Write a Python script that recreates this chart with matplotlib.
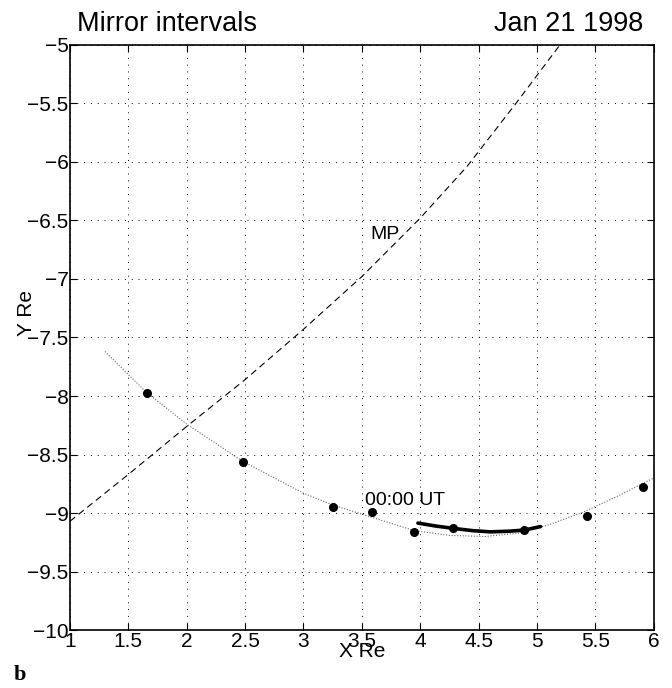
import matplotlib
matplotlib.use("Agg")
import matplotlib.pyplot as plt
import numpy as np

plt.rcParams['font.family'] = ['Liberation Sans', 'DejaVu Sans']

# orbit positions (black dots)
pos_x = [1.657, 2.484, 3.249, 3.589, 3.948, 4.277, 4.887, 5.429, 5.903]
pos_y = [-7.977, -8.567, -8.946, -8.989, -9.160, -9.131, -9.140, -9.023, -8.775]

# thin dotted orbit track
orb_x = [1.30, 1.657, 2.00, 2.484, 3.00, 3.25, 3.60, 3.95, 4.25, 4.55, 4.85, 5.10, 5.40, 5.70, 6.00]
orb_y = [-7.62, -7.97, -8.24, -8.56, -8.83, -8.93, -9.04, -9.15, -9.19, -9.20, -9.17, -9.10, -8.99, -8.85, -8.70]

# thick segment: mirror interval
mir_x = [3.98, 4.13, 4.28, 4.45, 4.60, 4.75, 4.89, 5.03]
mir_y = [-9.085, -9.11, -9.13, -9.15, -9.16, -9.155, -9.145, -9.115]

# magnetopause (dashed)
mp_x = [1.0, 1.5, 2.0, 2.5, 3.0, 3.5, 4.0, 4.4, 4.82, 5.25]
mp_y = [-9.07, -8.67, -8.26, -7.86, -7.43, -6.98, -6.48, -6.04, -5.50, -4.93]

fig = plt.figure(figsize=(6.72, 6.88), dpi=100)
ax = fig.add_axes([0.104, 0.084, 0.869, 0.851])

ax.plot(orb_x, orb_y, color='0.4', lw=0.8, ls=(0, (1, 1.5)))
ax.plot(mp_x, mp_y, color='black', lw=0.8, ls=(0, (6, 4)))
ax.plot(mir_x, mir_y, color='black', lw=2.6, solid_capstyle='round')
ax.plot(pos_x, pos_y, 'o', color='black', ms=5.5)

ax.text(3.53, -8.935, '00:00 UT', fontsize=14, ha='left', va='baseline')
ax.text(3.82, -6.62, 'MP', fontsize=14, ha='right', va='center')

ax.set_xlim(1, 6)
ax.set_ylim(-10, -5)
ax.set_xticks(np.arange(1, 6.01, 0.5))
ax.set_yticks(np.arange(-10, -4.99, 0.5))
ax.set_xticklabels(['1', '1.5', '2', '2.5', '3', '3.5', '4', '4.5', '5', '5.5', '6'])
ax.set_yticklabels(['\u221210', '\u22129.5', '\u22129', '\u22128.5', '\u22128', '\u22127.5',
                    '\u22127', '\u22126.5', '\u22126', '\u22125.5', '\u22125'])
ax.tick_params(direction='in', top=True, right=True, labelsize=15, length=5, pad=1)
ax.grid(True, color='black', lw=0.7, ls=(0, (1, 6)))
for s in ax.spines.values():
    s.set_linewidth(1.2)

ax.set_xlabel('X Re', fontsize=15, labelpad=-6)
fig.text(0.04, 0.545, 'Y Re', fontsize=15, rotation=90, ha='center', va='center')

fig.text(0.115, 0.955, 'Mirror intervals', fontsize=19.5, ha='left', va='baseline')
fig.text(0.957, 0.955, 'Jan 21 1998', fontsize=19.5, ha='right', va='baseline')
fig.text(0.03, 0.005, 'b', fontsize=16, fontweight='bold', family='Liberation Serif',
         ha='center', va='bottom')

fig.savefig('out.png', dpi=100)
